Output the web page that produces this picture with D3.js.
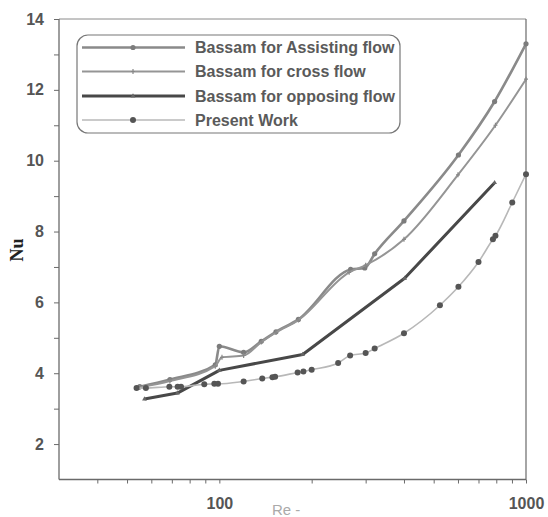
<!DOCTYPE html>
<html>
<head>
<meta charset="utf-8">
<script src="https://cdn.jsdelivr.net/npm/d3@7"></script>
<style>
  html, body { margin: 0; padding: 0; background: #fff; }
  svg { display: block; }
</style>
</head>
<body>
<svg id="chart" width="548" height="517"></svg>
<script>
// Nusselt number vs Reynolds number, four data series
const seriesNames = [
  "Bassam for Assisting flow",
  "Bassam for cross flow",
  "Bassam for opposing flow",
  "Present Work"
];

const assistRe = [55, 69, 97, 100, 120, 137, 153, 181, 268, 298, 321, 400, 602, 790, 1000];
const assistNu = [3.62, 3.82, 4.24, 4.76, 4.59, 4.9, 5.17, 5.52, 6.93, 6.97, 7.37, 8.3, 10.16, 11.67, 13.3];

const crossRe = [55, 69, 97, 102, 120, 137, 153, 181, 265, 300, 400, 600, 795, 1000];
const crossNu = [3.6, 3.78, 4.2, 4.45, 4.5, 4.88, 5.15, 5.5, 6.85, 7.05, 7.78, 9.6, 11.0, 12.3];

const opposeRe = [57, 73, 100, 187, 402, 790];
const opposeNu = [3.27, 3.44, 4.08, 4.53, 6.68, 9.38];

const presentRe = [53.7, 57.6, 68.7, 73.1, 75, 89.3, 96.3, 99, 120, 138, 149, 152, 180, 188, 200, 244, 267, 300, 321, 400, 524, 602, 700, 780, 795, 902, 1000];
const presentNu = [3.58, 3.58, 3.62, 3.62, 3.62, 3.69, 3.70, 3.70, 3.77, 3.85, 3.89, 3.9, 4.02, 4.05, 4.1, 4.29, 4.5, 4.57, 4.7, 5.13, 5.92, 6.44, 7.14, 7.78, 7.88, 8.82, 9.62];

const yTicks = [2, 3, 4, 5, 6, 7, 8, 9, 10, 11, 12, 13, 14];
const xTicks = [40, 50, 60, 70, 80, 90, 100, 200, 300, 400, 500, 600, 700, 800, 900, 1000];
const xLabelled = [100, 1000];

const svg = d3.select("#chart");
const plotLeft = 59, plotRight = 526, plotTop = 19, plotBottom = 479.5;

const x = d3.scaleLog().domain([30, 1000]).range([plotLeft, plotRight]);
const y = d3.scaleLinear().domain([1, 14]).range([plotBottom, plotTop]);

const axisColor = "#6a6a6a";
const labelFont = "'Liberation Sans', Arial, sans-serif";

// frame: top and right edges
svg.append("line").attr("x1", plotLeft).attr("x2", plotRight).attr("y1", plotTop).attr("y2", plotTop)
  .attr("stroke", "#8a8a8a").attr("stroke-width", 1);
svg.append("line").attr("x1", plotRight).attr("x2", plotRight).attr("y1", plotTop).attr("y2", plotBottom)
  .attr("stroke", "#6a6a6a").attr("stroke-width", 1.2);

// y axis
const yAxis = svg.append("g").attr("transform", `translate(${plotLeft},0)`)
  .call(d3.axisLeft(y).tickValues(yTicks).tickSize(5).tickPadding(10)
    .tickFormat(d => d % 2 === 0 ? d : ""));
// x axis
const xAxis = svg.append("g").attr("transform", `translate(0,${plotBottom})`)
  .call(d3.axisBottom(x).tickValues(xTicks).tickSize(4).tickPadding(14)
    .tickFormat(d => xLabelled.includes(d) ? d : ""));

[yAxis, xAxis].forEach(g => {
  g.select(".domain").attr("stroke", axisColor).attr("stroke-width", 1.3);
  g.selectAll(".tick line").attr("stroke", axisColor).attr("stroke-width", 1);
  g.selectAll(".tick text").attr("fill", "#555").attr("font-family", labelFont)
    .attr("font-size", 16).attr("font-weight", "bold");
});
yAxis.select(".domain").attr("d", `M0,${plotBottom}V${plotTop}`);
xAxis.select(".domain").attr("d", `M${plotLeft},0H${plotRight}`);

// axis titles
svg.append("text").attr("transform", "translate(23,250) rotate(-90)")
  .attr("text-anchor", "middle").attr("font-family", "'Liberation Serif', 'Times New Roman', serif")
  .attr("font-weight", "bold").attr("font-size", 18).attr("fill", "#222").text("Nu");
svg.append("text").attr("x", 272).attr("y", 515)
  .attr("font-family", labelFont).attr("font-size", 15).attr("fill", "#aaa").text("Re -");

// series definitions
const series = [
  { name: seriesNames[0], re: assistRe, nu: assistNu, stroke: "#8a8a8a", width: 2.6, marker: "circle", mcolor: "#7c7c7c", curve: d3.curveMonotoneX },
  { name: seriesNames[1], re: crossRe, nu: crossNu, stroke: "#959595", width: 2, marker: "plus", mcolor: "#888", curve: d3.curveMonotoneX },
  { name: seriesNames[2], re: opposeRe, nu: opposeNu, stroke: "#484848", width: 3, marker: "tri", mcolor: "#666", curve: d3.curveLinear },
  { name: seriesNames[3], re: presentRe, nu: presentNu, stroke: "#b8b8b8", width: 1.6, marker: "dot", mcolor: "#555", curve: d3.curveMonotoneX }
];

function drawMarker(g, kind, cx, cy, color) {
  if (kind === "circle") {
    g.append("circle").attr("cx", cx).attr("cy", cy).attr("r", 2.6).attr("fill", color);
  } else if (kind === "plus") {
    g.append("path").attr("d", `M${cx - 2},${cy}H${cx + 2}M${cx},${cy - 2.5}V${cy + 2.5}`)
      .attr("stroke", color).attr("stroke-width", 1.2);
  } else if (kind === "tri") {
    g.append("path").attr("d", d3.symbol(d3.symbolTriangle, 10)()).attr("transform", `translate(${cx},${cy})`)
      .attr("fill", color);
  } else {
    g.append("circle").attr("cx", cx).attr("cy", cy).attr("r", 3).attr("fill", color);
  }
}

const plot = svg.append("g");
series.forEach(s => {
  const pts = s.re.map((r, i) => [r, s.nu[i]]);
  const line = d3.line().x(d => x(d[0])).y(d => y(d[1])).curve(s.curve);
  plot.append("path").datum(pts).attr("d", line).attr("fill", "none")
    .attr("stroke", s.stroke).attr("stroke-width", s.width).attr("stroke-linejoin", "round");
  const mg = plot.append("g");
  pts.forEach(p => drawMarker(mg, s.marker, x(p[0]), y(p[1]), s.mcolor));
});

// legend
const lg = svg.append("g");
lg.append("rect").attr("x", 77).attr("y", 35).attr("width", 323).attr("height", 98)
  .attr("rx", 11).attr("ry", 11).attr("fill", "#fff").attr("stroke", "#777").attr("stroke-width", 1.2);
const rowY = [47.5, 71.5, 96, 120];
series.forEach((s, i) => {
  lg.append("line").attr("x1", 82).attr("x2", 185).attr("y1", rowY[i]).attr("y2", rowY[i])
    .attr("stroke", s.stroke).attr("stroke-width", s.width);
  drawMarker(lg, s.marker, 133, rowY[i], s.mcolor);
  lg.append("text").attr("x", 195).attr("y", rowY[i]).attr("dy", "0.36em")
    .attr("font-family", labelFont).attr("font-size", 16).attr("font-weight", "bold")
    .attr("fill", "#5a5a5a").text(s.name);
});
</script>
</body>
</html>
